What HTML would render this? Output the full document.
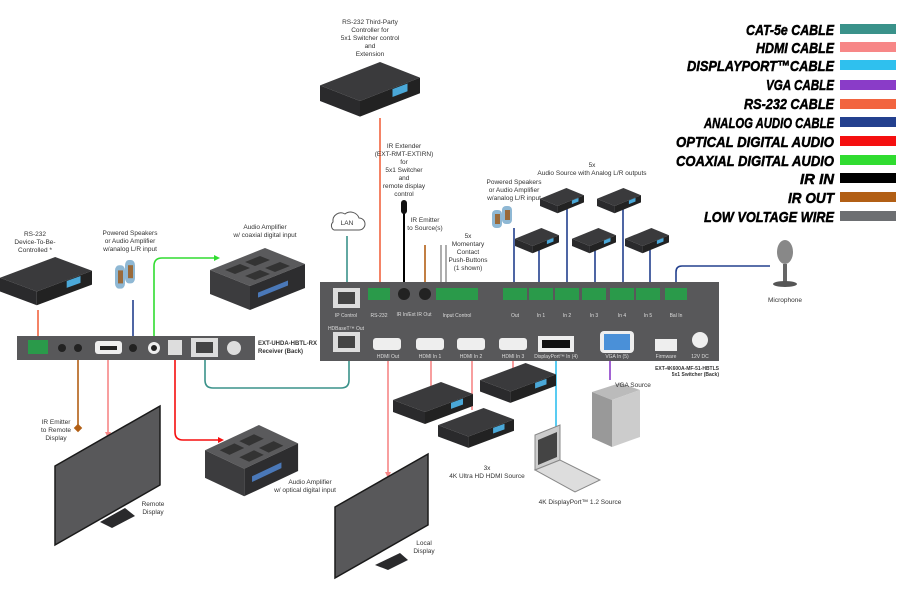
<!DOCTYPE html>
<html><head><meta charset="utf-8"><style>
html,body{margin:0;padding:0;background:#fff}
svg{display:block}
text{font-family:"Liberation Sans",sans-serif;fill:#333}
.s{font-size:6.5px;text-anchor:middle}
.lg{font-family:"Liberation Sans",sans-serif;font-weight:bold;font-style:italic;font-size:15px;text-anchor:end;fill:#000;stroke:#000;stroke-width:0.5}
.pl{font-size:5px;fill:#ddd;text-anchor:middle}
</style></head><body>
<svg width="900" height="600" viewBox="0 0 900 600" xmlns="http://www.w3.org/2000/svg">
<defs>
<g id="box"><polygon points="0,18 48,0 80,12 32,30" fill="#3a3a3c"/><polygon points="0,18 32,30 32,42 0,30" fill="#2a2a2c"/><polygon points="32,30 80,12 80,24 32,42" fill="#222"/><rect x="58" y="18" width="12" height="6" fill="#4aa8d8" transform="skewY(-20) translate(0,24)"/></g>
<g id="spk"><rect x="0" y="4" width="10" height="18" rx="4" fill="#8fb8d4"/><rect x="3" y="8" width="5" height="10" fill="#9a6a3a"/><rect x="10" y="0" width="10" height="18" rx="4" fill="#8fb8d4"/><rect x="13" y="4" width="5" height="10" fill="#9a6a3a"/></g>
<g id="amp"><polygon points="0,22 55,0 95,16 40,38" fill="#5a5a5c"/><polygon points="0,22 40,38 40,62 0,46" fill="#3c3c3e"/><polygon points="40,38 95,16 95,40 40,62" fill="#2d2d2f"/><rect x="48" y="44" width="30" height="5" fill="#4a78b8" transform="skewY(-22) translate(0,20)"/><g fill="#333"><polygon points="15,22 30,16 40,20 25,26"/><polygon points="35,14 50,8 60,12 45,18"/><polygon points="35,28 50,22 60,26 45,32"/><polygon points="55,20 70,14 80,18 65,24"/></g></g>
</defs>

<!-- Legend -->
<g>
<text class="lg" x="834" y="35" textLength="88" lengthAdjust="spacingAndGlyphs">CAT-5e CABLE</text><rect x="840" y="24" width="56" height="10" fill="#3a928a"/>
<text class="lg" x="834" y="53" textLength="78" lengthAdjust="spacingAndGlyphs">HDMI CABLE</text><rect x="840" y="42" width="56" height="10" fill="#f78787"/>
<text class="lg" x="834" y="71" textLength="147" lengthAdjust="spacingAndGlyphs">DISPLAYPORT™CABLE</text><rect x="840" y="60" width="56" height="10" fill="#2fc0ee"/>
<text class="lg" x="834" y="90" textLength="68" lengthAdjust="spacingAndGlyphs">VGA CABLE</text><rect x="840" y="80" width="56" height="10" fill="#8a3cc8"/>
<text class="lg" x="834" y="109" textLength="90" lengthAdjust="spacingAndGlyphs">RS-232 CABLE</text><rect x="840" y="99" width="56" height="10" fill="#f2643f"/>
<text class="lg" x="834" y="128" textLength="130" lengthAdjust="spacingAndGlyphs">ANALOG AUDIO CABLE</text><rect x="840" y="117" width="56" height="10" fill="#23408e"/>
<text class="lg" x="834" y="147" textLength="158" lengthAdjust="spacingAndGlyphs">OPTICAL DIGITAL AUDIO</text><rect x="840" y="136" width="56" height="10" fill="#f50f0f"/>
<text class="lg" x="834" y="166" textLength="158" lengthAdjust="spacingAndGlyphs">COAXIAL DIGITAL AUDIO</text><rect x="840" y="155" width="56" height="10" fill="#30dc30"/>
<text class="lg" x="834" y="184" textLength="34" lengthAdjust="spacingAndGlyphs">IR IN</text><rect x="840" y="173" width="56" height="10" fill="#000"/>
<text class="lg" x="834" y="203" textLength="46" lengthAdjust="spacingAndGlyphs">IR OUT</text><rect x="840" y="192" width="56" height="10" fill="#b25f15"/>
<text class="lg" x="834" y="222" textLength="130" lengthAdjust="spacingAndGlyphs">LOW VOLTAGE WIRE</text><rect x="840" y="211" width="56" height="10" fill="#6d6f72"/>
</g>

<!-- Cables (switcher) -->
<g fill="none" stroke-width="1.6">
<path d="M380,118 V290" stroke="#f2643f"/>
<path d="M404,212 V292" stroke="#000" stroke-width="2"/>
<path d="M425,245 V292" stroke="#b25f15"/>
<path d="M441,245 V292 M446,245 V292" stroke="#999"/>
<path d="M347,236 V292" stroke="#3a928a"/>
<path d="M514,228 V292 M539,250 V292 M567,208 V292 M595,250 V292 M623,208 V292 M650,250 V292" stroke="#23408e"/>
<path d="M676,292 V272 Q676,266 682,266 H770" stroke="#23408e"/>
<path d="M388,350 V472 M431,350 V388 M472,350 V410 M513,350 V370" stroke="#f78787"/>
<path d="M556,350 V430" stroke="#2fc0ee"/>
<path d="M610,350 V380" stroke="#8a3cc8"/>
<path d="M349,348 V380 Q349,388 341,388 H213 Q205,388 205,380 V348" stroke="#3a928a"/>
<path d="M38,310 V342" stroke="#f2643f"/>
<path d="M133,300 V342" stroke="#23408e"/>
<path d="M154,342 V266 Q154,258 162,258 H214" stroke="#30dc30"/>
<path d="M78,352 V428" stroke="#b25f15"/>
<path d="M108,352 V432" stroke="#f78787"/>
<path d="M175,352 V432 Q175,440 183,440 H218" stroke="#f50f0f"/>
</g>
<g>
<polygon points="214,255 220,258 214,261" fill="#30dc30"/>
<polygon points="218,437 224,440 218,443" fill="#f50f0f"/>
<polygon points="105,432 108,438 111,432" fill="#f78787"/>
<polygon points="385,472 388,478 391,472" fill="#f78787"/>
<rect x="75" y="425" width="6" height="6" fill="#b25f15" transform="rotate(45 78 428)"/>
</g>

<!-- Top devices -->
<use href="#box" transform="translate(320,62) scale(1.25,1.3)"/>
<text class="s" x="370" y="24">RS-232 Third-Party</text><text class="s" x="370" y="32">Controller for</text><text class="s" x="370" y="40">5x1 Switcher control</text><text class="s" x="370" y="48">and</text><text class="s" x="370" y="56">Extension</text>
<text class="s" x="404" y="148">IR Extender</text><text class="s" x="404" y="156">(EXT-RMT-EXTIRN)</text><text class="s" x="404" y="164">for</text><text class="s" x="404" y="172">5x1 Switcher</text><text class="s" x="404" y="180">and</text><text class="s" x="404" y="188">remote display</text><text class="s" x="404" y="196">control</text>
<rect x="401" y="200" width="6" height="14" rx="3" fill="#111"/>
<text class="s" x="425" y="222">IR Emitter</text><text class="s" x="425" y="230">to Source(s)</text>
<text class="s" x="468" y="238">5x</text><text class="s" x="468" y="246">Momentary</text><text class="s" x="468" y="254">Contact</text><text class="s" x="468" y="262">Push-Buttons</text><text class="s" x="468" y="270">(1 shown)</text>
<path d="M333,222 a8,8 0 0,1 12,-8 a9,9 0 0,1 14,4 a6,6 0 0,1 0,12 h-25 a5,5 0 0,1 -1,-8z" fill="#fff" stroke="#555" stroke-width="1"/>
<text class="s" x="347" y="225">LAN</text>
<text class="s" x="514" y="184">Powered Speakers</text><text class="s" x="514" y="192">or Audio Amplifier</text><text class="s" x="514" y="200">w/analog L/R input</text>
<use href="#spk" transform="translate(492,206)"/>
<text class="s" x="592" y="167">5x</text><text class="s" x="592" y="175">Audio Source with Analog L/R outputs</text>
<use href="#box" transform="translate(540,188) scale(0.55,0.6)"/>
<use href="#box" transform="translate(597,188) scale(0.55,0.6)"/>
<use href="#box" transform="translate(515,228) scale(0.55,0.6)"/>
<use href="#box" transform="translate(572,228) scale(0.55,0.6)"/>
<use href="#box" transform="translate(625,228) scale(0.55,0.6)"/>
<ellipse cx="785" cy="252" rx="8" ry="12" fill="#888"/><rect x="783" y="264" width="4" height="18" fill="#666"/><ellipse cx="785" cy="284" rx="12" ry="3" fill="#555"/>
<text class="s" x="785" y="302">Microphone</text>

<!-- Switcher panel -->
<rect x="320" y="282" width="399" height="79" fill="#58585a"/>
<rect x="333" y="288" width="27" height="20" fill="#ddd"/><rect x="338" y="292" width="17" height="12" fill="#444"/>
<rect x="333" y="332" width="27" height="20" fill="#ddd"/><rect x="338" y="336" width="17" height="12" fill="#444"/>
<g fill="#2a9a4a"><rect x="368" y="288" width="22" height="12"/><rect x="436" y="288" width="42" height="12"/><rect x="503" y="288" width="24" height="12"/><rect x="529" y="288" width="24" height="12"/><rect x="555" y="288" width="24" height="12"/><rect x="582" y="288" width="24" height="12"/><rect x="610" y="288" width="24" height="12"/><rect x="636" y="288" width="24" height="12"/><rect x="665" y="288" width="22" height="12"/></g>
<circle cx="404" cy="294" r="6" fill="#222"/><circle cx="425" cy="294" r="6" fill="#222"/>
<g fill="#eee"><rect x="373" y="338" width="28" height="12" rx="3"/><rect x="416" y="338" width="28" height="12" rx="3"/><rect x="457" y="338" width="28" height="12" rx="3"/><rect x="499" y="338" width="28" height="12" rx="3"/><rect x="538" y="336" width="36" height="16"/><rect x="600" y="331" width="34" height="22" rx="4"/><rect x="655" y="339" width="22" height="12"/><circle cx="700" cy="340" r="8"/></g>
<rect x="542" y="340" width="28" height="8" fill="#111"/><rect x="604" y="334" width="26" height="16" fill="#4a90d8"/>
<g><text x="346" y="317" class="pl">IP Control</text><text x="379" y="317" class="pl">RS-232</text><text x="414" y="316" class="pl">IR In/Ext IR Out</text><text x="457" y="317" class="pl">Input Control</text><text x="515" y="317" class="pl">Out</text><text x="541" y="317" class="pl">In 1</text><text x="567" y="317" class="pl">In 2</text><text x="594" y="317" class="pl">In 3</text><text x="622" y="317" class="pl">In 4</text><text x="648" y="317" class="pl">In 5</text><text x="676" y="317" class="pl">Bal In</text><text x="346" y="330" class="pl">HDBaseT™ Out</text><text x="388" y="358" class="pl">HDMI Out</text><text x="430" y="358" class="pl">HDMI In 1</text><text x="471" y="358" class="pl">HDMI In 2</text><text x="513" y="358" class="pl">HDMI In 3</text><text x="556" y="358" class="pl">DisplayPort™ In (4)</text><text x="617" y="358" class="pl">VGA In (5)</text><text x="666" y="358" class="pl">Firmware</text><text x="700" y="358" class="pl">12V DC</text></g>
<text x="719" y="370" style="font-size:5px;font-weight:bold;text-anchor:end">EXT-4K600A-MF-51-HBTLS</text>
<text x="719" y="376" style="font-size:5px;font-weight:bold;text-anchor:end">5x1 Switcher (Back)</text>

<!-- Bottom sources -->
<use href="#box" transform="translate(393,382)"/>
<use href="#box" transform="translate(480,363) scale(0.95,0.95)"/>
<use href="#box" transform="translate(438,408) scale(0.95,0.95)"/>
<text class="s" x="487" y="470">3x</text><text class="s" x="487" y="478">4K Ultra HD HDMI Source</text>
<polygon points="535,435 560,425 560,460 535,470" fill="#ccc" stroke="#888"/><polygon points="538,440 557,432 557,457 538,465" fill="#444"/>
<polygon points="535,470 560,460 600,480 575,492" fill="#ddd" stroke="#888"/>
<text class="s" x="580" y="504">4K DisplayPort™ 1.2 Source</text>
<polygon points="592,392 620,383 640,390 612,400" fill="#bbb"/><polygon points="592,392 612,400 612,447 592,438" fill="#999"/><polygon points="612,400 640,390 640,437 612,447" fill="#ccc"/>
<text class="s" x="633" y="387">VGA Source</text>
<!-- Local display -->
<polygon points="375,565 400,553 408,560 388,570" fill="#2a2a2c"/>
<polygon points="335,507 428,454 428,525 335,578" fill="#58585a" stroke="#1a1a1a" stroke-width="1.5"/>
<text class="s" x="424" y="545">Local</text><text class="s" x="424" y="553">Display</text>

<!-- Receiver side -->
<text class="s" x="35" y="236">RS-232</text><text class="s" x="35" y="244">Device-To-Be-</text><text class="s" x="35" y="252">Controlled *</text>
<use href="#box" transform="translate(0,257) scale(1.15,1.15)"/>
<text class="s" x="130" y="235">Powered Speakers</text><text class="s" x="130" y="243">or Audio Amplifier</text><text class="s" x="130" y="251">w/analog L/R input</text>
<use href="#spk" transform="translate(115,260) scale(1,1.3)"/>
<text class="s" x="265" y="229">Audio Amplifier</text><text class="s" x="265" y="237">w/ coaxial digital input</text>
<use href="#amp" transform="translate(210,248)"/>
<rect x="17" y="336" width="238" height="24" fill="#58585a"/>
<rect x="28" y="340" width="20" height="14" fill="#2a9a4a"/>
<circle cx="62" cy="348" r="4" fill="#222"/><circle cx="78" cy="348" r="4" fill="#222"/>
<rect x="95" y="341" width="27" height="13" rx="3" fill="#eee"/><rect x="100" y="346" width="17" height="4" fill="#222"/>
<circle cx="133" cy="348" r="4" fill="#222"/><circle cx="154" cy="348" r="6" fill="#eee"/><circle cx="154" cy="348" r="3" fill="#222"/>
<rect x="168" y="340" width="14" height="15" fill="#ddd"/>
<rect x="191" y="338" width="27" height="19" fill="#ddd"/><rect x="196" y="342" width="17" height="11" fill="#444"/>
<circle cx="234" cy="348" r="7" fill="#ddd"/>
<text x="258" y="345" style="font-size:6px;font-weight:bold">EXT-UHDA-HBTL-RX</text>
<text x="258" y="353" style="font-size:6px;font-weight:bold">Receiver (Back)</text>
<text class="s" x="56" y="424">IR Emitter</text><text class="s" x="56" y="432">to Remote</text><text class="s" x="56" y="440">Display</text>
<polygon points="100,522 125,508 135,516 112,528" fill="#2a2a2c"/>
<polygon points="55,466 160,406 160,485 55,545" fill="#58585a" stroke="#1a1a1a" stroke-width="1.5"/>
<text class="s" x="153" y="506">Remote</text><text class="s" x="153" y="514">Display</text>
<use href="#amp" transform="translate(205,425) scale(0.98,1.15)"/>
<text class="s" x="310" y="484">Audio Amplifier</text><text class="s" x="305" y="492">w/ optical digital input</text>
</svg>
</body></html>
